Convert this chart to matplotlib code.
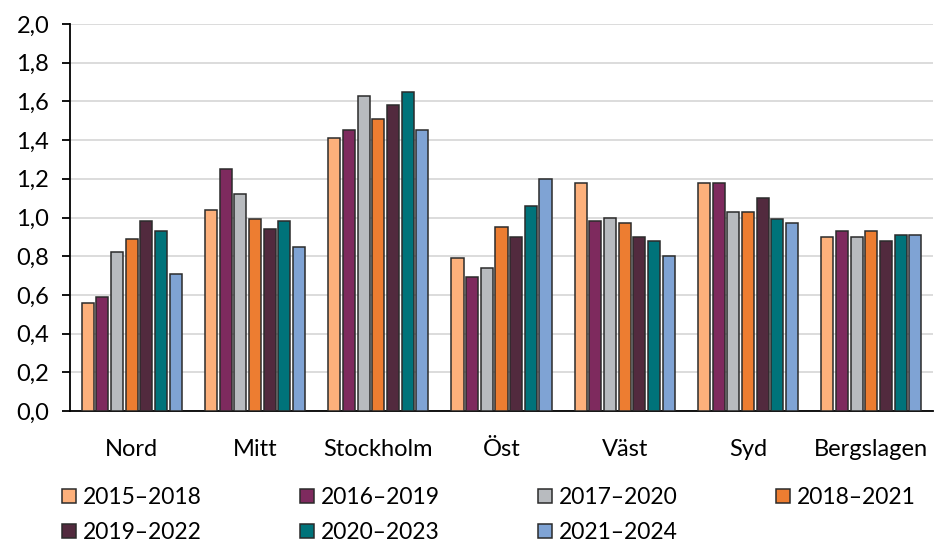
import numpy as np
import matplotlib.pyplot as plt
from matplotlib.ticker import FuncFormatter

plt.rcParams['font.family'] = ['Lato', 'DejaVu Sans']

regions = ['Nord', 'Mitt', 'Stockholm', 'Öst', 'Väst', 'Syd', 'Bergslagen']
periods = ['2015–2018', '2016–2019', '2017–2020', '2018–2021',
           '2019–2022', '2020–2023', '2021–2024']

v_2015_2018 = [0.56, 1.04, 1.41, 0.79, 1.18, 1.18, 0.90]
v_2016_2019 = [0.59, 1.25, 1.45, 0.69, 0.98, 1.18, 0.93]
v_2017_2020 = [0.82, 1.12, 1.63, 0.74, 1.00, 1.03, 0.90]
v_2018_2021 = [0.89, 0.99, 1.51, 0.95, 0.97, 1.03, 0.93]
v_2019_2022 = [0.98, 0.94, 1.58, 0.90, 0.90, 1.10, 0.88]
v_2020_2023 = [0.93, 0.98, 1.65, 1.06, 0.88, 0.99, 0.91]
v_2021_2024 = [0.71, 0.85, 1.45, 1.20, 0.80, 0.97, 0.91]
series = [v_2015_2018, v_2016_2019, v_2017_2020, v_2018_2021,
          v_2019_2022, v_2020_2023, v_2021_2024]

colors = ['#FDB07B', '#7E2A5E', '#B8BBBF', '#ED7D31', '#522A3E', '#00737A', '#7FA3D4']

fig = plt.figure(figsize=(9.43, 5.42), dpi=100)
ax = fig.add_axes([70 / 943, 1 - 411 / 542, 863 / 943, 387 / 542])

x = np.arange(len(regions))
pitch = 0.119
width = 0.098
bars = []
for i, vals in enumerate(series):
    b = ax.bar(x + (i - 3) * pitch, vals, width, color=colors[i], edgecolor='#2B2B2B',
               linewidth=1.1, label=periods[i], zorder=3)
    bars.append(b)

ax.set_xlim(-0.5, len(regions) - 0.5)
ax.set_ylim(0, 2.0)
ax.set_yticks(np.arange(0, 2.01, 0.2))
ax.yaxis.set_major_formatter(FuncFormatter(lambda v, p: f'{v:.1f}'.replace('.', ',')))
ax.set_xticks(x)
ax.set_xticklabels(regions)
ax.tick_params(axis='x', length=0, pad=20, labelsize=17)
ax.tick_params(axis='y', length=6, width=1.3, labelsize=17, direction='out', pad=9)
ax.grid(axis='y', color='#D9D9D9', linewidth=1.3, zorder=0)
ax.set_axisbelow(True)
for s in ['top', 'right']:
    ax.spines[s].set_visible(False)
ax.spines['left'].set_linewidth(1.3)
ax.spines['bottom'].set_linewidth(1.3)

# row-wise legend order (matplotlib fills columns first)
order = [0, 4, 1, 5, 2, 6, 3]
ax.legend([bars[i] for i in order], [periods[i] for i in order],
          loc='upper left', bbox_to_anchor=(62 / 943, 1 - 487 / 542), bbox_transform=fig.transFigure,
          ncol=4, frameon=False, fontsize=16.5, handlelength=0.6, handleheight=0.6,
          handletextpad=0.3, columnspacing=4.3, labelspacing=0.62, borderpad=0, borderaxespad=0)

fig.savefig('out.png', dpi=100)
